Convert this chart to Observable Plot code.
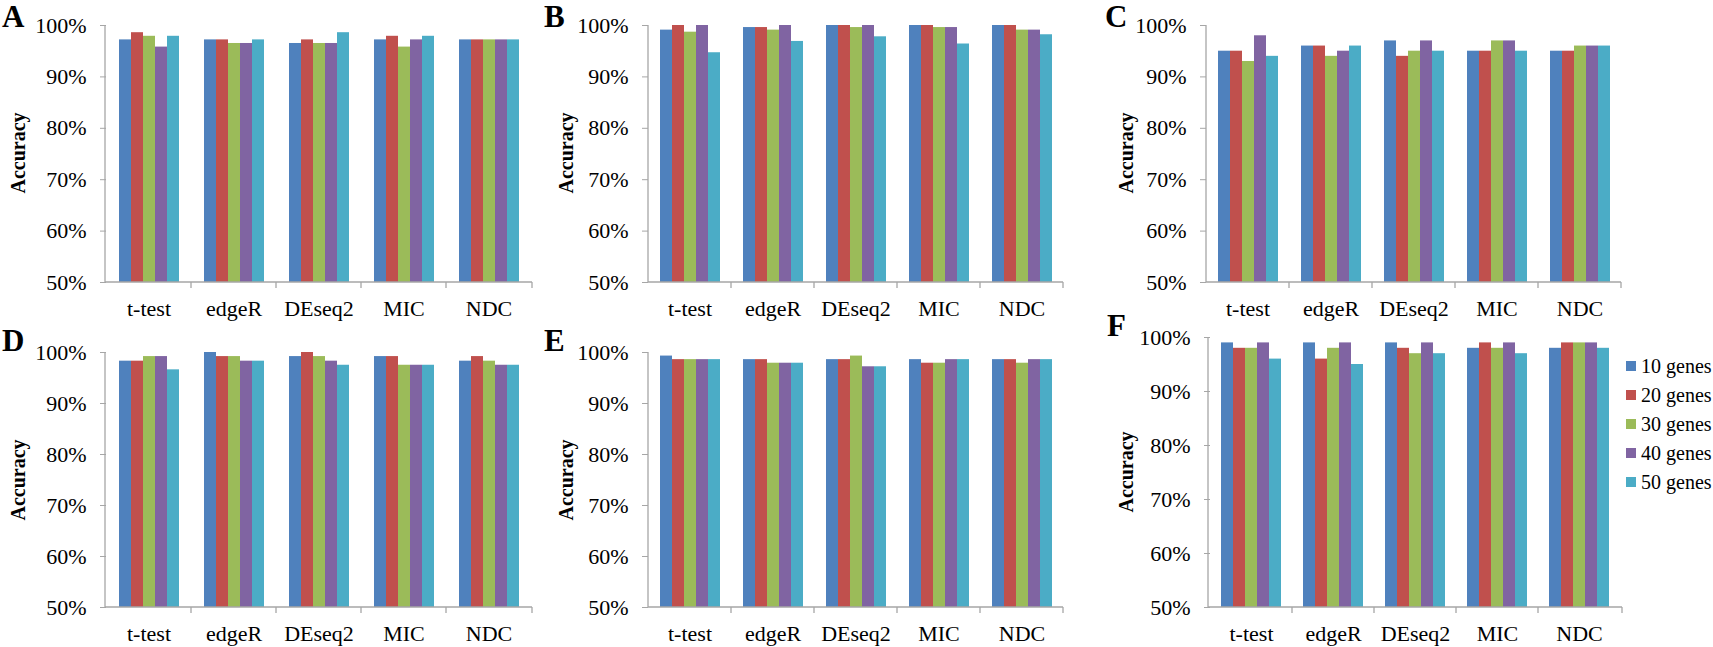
<!DOCTYPE html>
<html>
<head>
<meta charset="utf-8">
<script src="https://cdn.jsdelivr.net/npm/d3@7"></script>
<script src="https://cdn.jsdelivr.net/npm/@observablehq/plot@0.6"></script>
<style>
  body { margin: 0; background: #fff; }
  #root { position: relative; width: 1713px; height: 647px; overflow: hidden; background: #fff;
          font-family: "Liberation Serif", "Times New Roman", serif; color: #000; }
  .panel { position: absolute; }
  .panel svg, .panel svg text { font-family: "Liberation Serif", "Times New Roman", serif !important; }
  .letter { position: absolute; font-weight: bold; font-size: 31px; line-height: 0.8; }
  .ylab { position: absolute; font-weight: bold; font-size: 20px; line-height: 1; white-space: nowrap;
          transform: translate(-50%, -50%) rotate(-90deg); }
  .leg { position: absolute; display: flex; align-items: center; font-size: 20px; line-height: 1; white-space: nowrap; height: 24px; }
  .sw { width: 10px; height: 10px; margin-right: 5px; }
</style>
</head>
<body>
<div id="root"></div>
<script>
// ---------- data ----------
const methods = ["t-test", "edgeR", "DEseq2", "MIC", "NDC"];
const seriesNames = ["10 genes", "20 genes", "30 genes", "40 genes", "50 genes"];
const seriesColors = ["#4F81BD", "#C0504D", "#9BBB59", "#8064A2", "#4BACC6"];
const yTicks = [50, 60, 70, 80, 90, 100];
const panelLetters = ["A", "B", "C", "D", "E", "F"];
const axisTitle = "Accuracy";

// values per method (rows) x series (columns), in %
const panelA = [
  [97.2, 98.6, 97.9, 95.8, 97.9],
  [97.2, 97.2, 96.5, 96.5, 97.2],
  [96.5, 97.2, 96.5, 96.5, 98.6],
  [97.2, 97.9, 95.8, 97.2, 97.9],
  [97.2, 97.2, 97.2, 97.2, 97.2]
];
const panelB = [
  [99.1, 100, 98.7, 100, 94.7],
  [99.6, 99.6, 99.1, 100, 96.9],
  [100, 100, 99.6, 100, 97.8],
  [100, 100, 99.6, 99.6, 96.4],
  [100, 100, 99.1, 99.1, 98.2]
];
const panelC = [
  [95, 95, 93, 98, 94],
  [96, 96, 94, 95, 96],
  [97, 94, 95, 97, 95],
  [95, 95, 97, 97, 95],
  [95, 95, 96, 96, 96]
];
const panelD = [
  [98.3, 98.3, 99.2, 99.2, 96.6],
  [100, 99.2, 99.2, 98.3, 98.3],
  [99.2, 100, 99.2, 98.3, 97.5],
  [99.2, 99.2, 97.5, 97.5, 97.5],
  [98.3, 99.2, 98.3, 97.5, 97.5]
];
const panelE = [
  [99.3, 98.6, 98.6, 98.6, 98.6],
  [98.6, 98.6, 97.9, 97.9, 97.9],
  [98.6, 98.6, 99.3, 97.2, 97.2],
  [98.6, 97.9, 97.9, 98.6, 98.6],
  [98.6, 98.6, 97.9, 98.6, 98.6]
];
const panelF = [
  [99, 98, 98, 99, 96],
  [99, 96, 98, 99, 95],
  [99, 98, 97, 99, 97],
  [98, 99, 98, 99, 97],
  [98, 99, 99, 99, 98]
];
const panelValues = [panelA, panelB, panelC, panelD, panelE, panelF];

// ---------- layout ----------
const FONT = '"Liberation Serif", "Times New Roman", serif';
const layouts = [
  {left: 0,    top: 0,   width: 560, height: 320, mt: 25, mr: 28, mb: 38, ml: 105, po: 0.78, lx: 2,    ly: 5,   ax: 18,   ay: 153},
  {left: 540,  top: 0,   width: 560, height: 320, mt: 25, mr: 37, mb: 38, ml: 108, po: 0.79, lx: 544,  ly: 5,   ax: 566,  ay: 153},
  {left: 1100, top: 0,   width: 560, height: 320, mt: 25, mr: 39, mb: 38, ml: 106, po: 0.79, lx: 1105, ly: 5,   ax: 1126, ay: 153},
  {left: 0,    top: 320, width: 560, height: 327, mt: 32, mr: 28, mb: 40, ml: 105, po: 0.78, lx: 2,    ly: 329, ax: 18,   ay: 480},
  {left: 540,  top: 320, width: 560, height: 327, mt: 32, mr: 37, mb: 40, ml: 108, po: 0.79, lx: 544,  ly: 329, ax: 566,  ay: 480},
  {left: 1100, top: 320, width: 560, height: 327, mt: 17, mr: 38, mb: 40, ml: 108, po: 0.79, lx: 1107, ly: 314, ax: 1126, ay: 472}
];
const AXIS_GRAY = "#a6a6a6";

const root = document.getElementById("root");

function drawPanel(values, L, letter) {
  const rows = [];
  methods.forEach((m, i) => seriesNames.forEach((s, j) => rows.push({method: m, series: s, value: values[i][j]})));

  const plot = Plot.plot({
    width: L.width, height: L.height,
    marginTop: L.mt, marginRight: L.mr, marginBottom: L.mb, marginLeft: L.ml,
    style: `font-family: ${FONT}; font-size: 22px; color: #000; background: transparent; overflow: visible;`,
    fx: {domain: methods, padding: 0},
    x: {domain: seriesNames, paddingInner: 0, paddingOuter: L.po, axis: null},
    y: {domain: [50, 100]},
    color: {domain: seriesNames, range: seriesColors},
    marks: [
      Plot.barY(rows, {fx: "method", x: "series", y1: 50, y2: "value", fill: "series"}),
      Plot.axisY({ticks: yTicks, tickFormat: d => d + "%", tickSize: 6, tickPadding: 14,
                  stroke: AXIS_GRAY, fill: "#000", label: null, fontSize: 22, fontFamily: FONT}),
      Plot.axisFx({anchor: "bottom", tickSize: 0, tickPadding: 18, label: null, fontSize: 22, fill: "#000", fontFamily: FONT})
    ]
  });

  // axis lines and category separators, positioned from Plot's own scales
  const ys = plot.scale("y"), fxs = plot.scale("fx");
  const y0 = ys.apply(50), yTop = ys.apply(100);
  const xL = fxs.range[0], xR = fxs.range[1];
  const g = d3.select(plot).append("g").attr("stroke", AXIS_GRAY).attr("stroke-width", 1.3);
  g.append("line").attr("x1", xL).attr("x2", xL).attr("y1", y0).attr("y2", yTop);
  g.append("line").attr("x1", xL).attr("x2", xR).attr("y1", y0).attr("y2", y0);
  const bounds = methods.slice(1).map(m => fxs.apply(m)).concat([xR]);
  bounds.forEach(bx => g.append("line").attr("x1", bx).attr("x2", bx).attr("y1", y0).attr("y2", y0 + 6));

  const wrap = document.createElement("div");
  wrap.className = "panel";
  wrap.style.left = L.left + "px";
  wrap.style.top = L.top + "px";
  wrap.appendChild(plot);
  root.appendChild(wrap);

  const lt = document.createElement("div");
  lt.className = "letter";
  lt.textContent = letter;
  lt.style.left = L.lx + "px";
  lt.style.top = L.ly + "px";
  root.appendChild(lt);

  const yl = document.createElement("div");
  yl.className = "ylab";
  yl.textContent = axisTitle;
  yl.style.left = L.ax + "px";
  yl.style.top = L.ay + "px";
  root.appendChild(yl);
}

panelValues.forEach((v, i) => drawPanel(v, layouts[i], panelLetters[i]));

// legend (beside panel F)
const legendLeft = 1626, legendTop = 354, legendStep = 29;
seriesNames.forEach((s, i) => {
  const it = document.createElement("div");
  it.className = "leg";
  it.style.left = legendLeft + "px";
  it.style.top = (legendTop + i * legendStep) + "px";
  const sw = document.createElement("div");
  sw.className = "sw";
  sw.style.background = seriesColors[i];
  const tx = document.createElement("span");
  tx.textContent = s;
  it.appendChild(sw);
  it.appendChild(tx);
  root.appendChild(it);
});
</script>
</body>
</html>
